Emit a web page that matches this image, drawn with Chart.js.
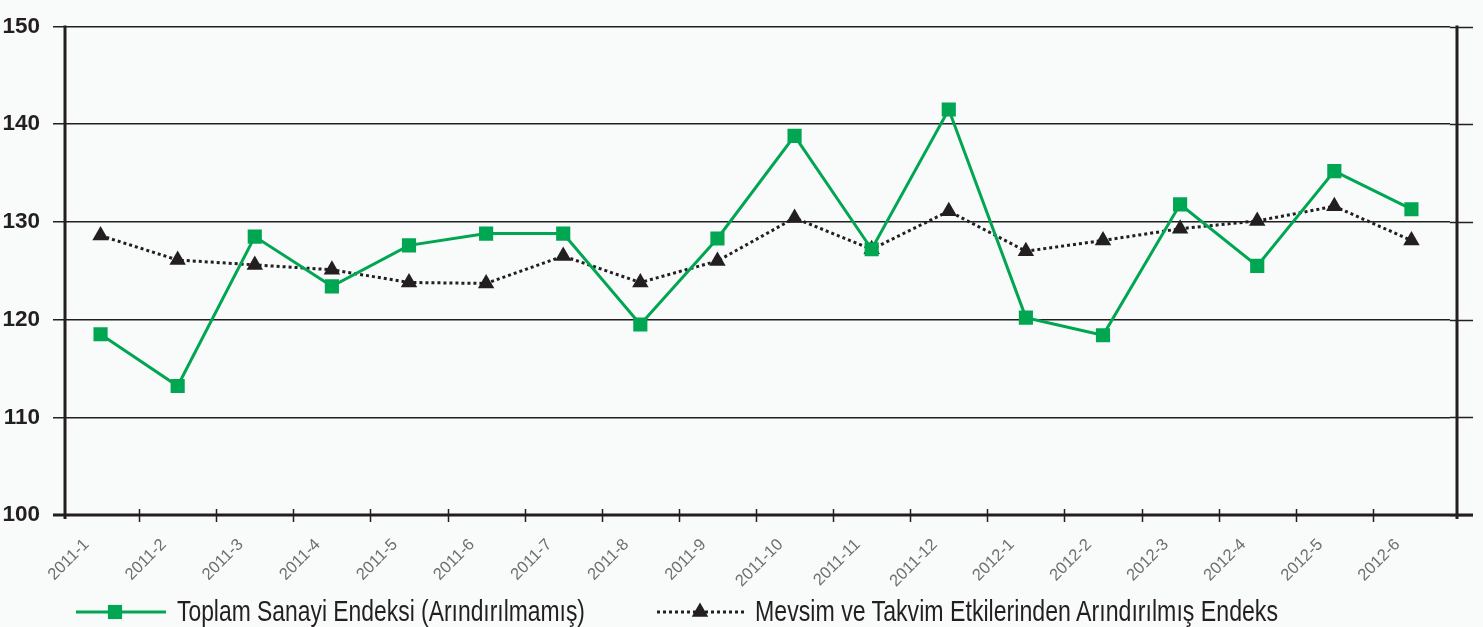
<!DOCTYPE html>
<html>
<head>
<meta charset="utf-8">
<script src="https://cdn.jsdelivr.net/npm/chart.js@4.4.1/dist/chart.umd.min.js"></script>
<style>
  html, body { margin: 0; padding: 0; background: #f9fafa; }
  #wrap { position: relative; width: 1483px; height: 627px; overflow: hidden; }
  #c { position: absolute; left: 0; top: 0; }
  .leg { position: absolute; font-family: 'Liberation Sans', Arial, sans-serif; font-size: 29px; color: #231f20; white-space: nowrap; line-height: 1; transform-origin: 0 0; }
  .sample { position: absolute; }
</style>
</head>
<body>
<div id="wrap">
  <canvas id="c" width="1483" height="627"></canvas>
  <div id="legend"></div>
</div>
<script>
// ---- data ----
const categories = ['2011-1','2011-2','2011-3','2011-4','2011-5','2011-6','2011-7','2011-8','2011-9',
                    '2011-10','2011-11','2011-12','2012-1','2012-2','2012-3','2012-4','2012-5','2012-6'];
const seriesNames = ['Toplam Sanayi Endeksi (Arındırılmamış)', 'Mevsim ve Takvim Etkilerinden Arındırılmış Endeks'];
const unadjusted = [118.5, 113.2, 128.5, 123.4, 127.6, 128.8, 128.8, 119.5, 128.3,
                    138.8, 127.2, 141.5, 120.2, 118.4, 131.8, 125.5, 135.2, 131.3];
const adjusted   = [128.6, 126.1, 125.6, 125.1, 123.8, 123.7, 126.5, 123.8, 126.0,
                    130.4, 127.2, 131.1, 127.0, 128.1, 129.3, 130.1, 131.6, 128.1];
const yTicks = [100, 110, 120, 130, 140, 150];

const GREEN = '#00a651';
const DARK = '#231f20';

const decor = {
  id: 'decor',
  beforeDatasetsDraw(chart) {
    const {ctx, chartArea: a, scales: {x, y}} = chart;
    ctx.save();
    ctx.strokeStyle = DARK;
    ctx.lineWidth = 1.5;
    yTicks.forEach(v => {
      const py = Math.round(y.getPixelForValue(v)) + 0.5;
      ctx.beginPath(); ctx.moveTo(a.right, py); ctx.lineTo(1473, py); ctx.stroke();
    });
    ctx.lineWidth = 3;
    ctx.beginPath(); ctx.moveTo(65, a.top - 1); ctx.lineTo(65, a.bottom + 4); ctx.stroke();
    ctx.beginPath(); ctx.moveTo(1457, a.top - 1); ctx.lineTo(1457, a.bottom + 4); ctx.stroke();
    ctx.beginPath(); ctx.moveTo(53, a.bottom); ctx.lineTo(1473, a.bottom); ctx.stroke();
    ctx.lineWidth = 1.5;
    for (let i = 1; i < categories.length; i++) {
      const px = Math.round((x.getPixelForTick(i - 1) + x.getPixelForTick(i)) / 2) + 0.5;
      ctx.beginPath(); ctx.moveTo(px, a.bottom - 6); ctx.lineTo(px, a.bottom + 7); ctx.stroke();
    }
    ctx.restore();
  }
};

const chart = new Chart(document.getElementById('c'), {
  type: 'line',
  data: {
    labels: categories,
    datasets: [
      {
        label: seriesNames[0], data: unadjusted,
        borderColor: GREEN, borderWidth: 3, tension: 0,
        pointStyle: 'rect', pointRadius: 10, pointHoverRadius: 10,
        pointBackgroundColor: GREEN, pointBorderWidth: 0, order: 0
      },
      {
        label: seriesNames[1], data: adjusted,
        borderColor: DARK, borderWidth: 3, borderDash: [3, 3], tension: 0,
        pointStyle: 'triangle', pointRadius: 9.5, pointHoverRadius: 9.5,
        pointBackgroundColor: DARK, pointBorderWidth: 0, order: 1
      }
    ]
  },
  options: {
    responsive: false,
    animation: false,
    layout: { padding: { left: 0, right: 33, top: 21, bottom: 0 } },
    plugins: { legend: { display: false }, tooltip: { enabled: false } },
    scales: {
      x: {
        type: 'category',
        offset: true,
        grid: { display: false, drawTicks: false },
        border: { display: false },
        ticks: {
          minRotation: 45, maxRotation: 45, autoSkip: false,
          padding: 20, labelOffset: -14,
          color: '#6d6e71',
          font: { family: "'Liberation Sans', Arial, sans-serif", size: 16.5 }
        },
        afterFit(s) { s.height = 112; }
      },
      y: {
        min: 100, max: 150,
        afterBuildTicks(s) { s.ticks = yTicks.map(v => ({ value: v })); },
        grid: { color: DARK, lineWidth: 1.5, tickLength: 9, tickColor: DARK },
        border: { display: false },
        ticks: {
          padding: 13, color: DARK,
          font: { family: "'Liberation Sans', Arial, sans-serif", size: 22.5, weight: 'bold' }
        },
        afterFit(s) { s.width = 62; }
      }
    }
  },
  plugins: [decor]
});

// ---- legend (HTML text, samples drawn with dataset styles) ----
const legend = document.getElementById('legend');
const legendLayout = [
  { sampleX: 76, markerX: 39, textX: 177, textW: 408 },
  { sampleX: 657, markerX: 43, textX: 755, textW: 523 }
];
chart.data.datasets.forEach((ds, i) => {
  const L = legendLayout[i];
  const cv = document.createElement('canvas');
  cv.width = 90; cv.height = 24; cv.className = 'sample';
  cv.style.left = L.sampleX + 'px'; cv.style.top = (612 - 12) + 'px';
  const g = cv.getContext('2d');
  g.strokeStyle = ds.borderColor; g.lineWidth = ds.borderWidth;
  g.setLineDash(ds.borderDash || []);
  g.beginPath(); g.moveTo(0, 12); g.lineTo(90, 12); g.stroke();
  g.setLineDash([]);
  g.fillStyle = ds.pointBackgroundColor;
  g.beginPath();
  if (ds.pointStyle === 'rect') { const s = ds.pointRadius * Math.SQRT1_2; g.rect(L.markerX - s, 12 - s, 2 * s, 2 * s); }
  else { const r = ds.pointRadius; g.moveTo(L.markerX, 12 - r); g.lineTo(L.markerX + r * 0.866, 12 + r / 2); g.lineTo(L.markerX - r * 0.866, 12 + r / 2); g.closePath(); }
  g.fill();
  legend.appendChild(cv);
  const t = document.createElement('div');
  t.className = 'leg';
  t.textContent = ds.label;
  t.style.left = L.textX + 'px'; t.style.top = '597px';
  legend.appendChild(t);
  const w = t.getBoundingClientRect().width;
  t.style.transform = 'scaleX(' + (L.textW / w).toFixed(4) + ')';
});
</script>
</body>
</html>
